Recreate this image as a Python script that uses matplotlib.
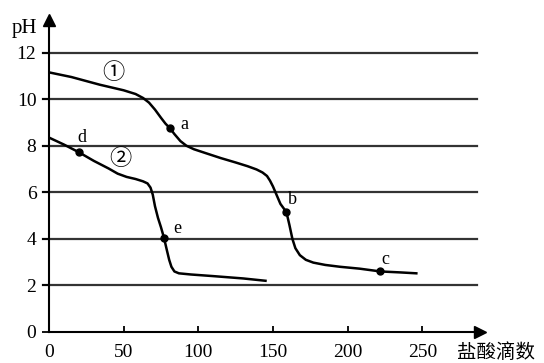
import matplotlib.pyplot as plt

# Curva ① (x = gotas de HCl, y = pH)
x1 = [0, 15, 34, 50, 58, 63, 67, 71, 75, 78, 81, 84, 88, 92, 97, 105, 115, 125,
      133, 139, 143, 146, 148, 150, 152, 155, 159, 161, 163, 165, 168, 172, 177,
      185, 195, 208, 222, 235, 246]
y1 = [11.15, 10.95, 10.62, 10.38, 10.22, 10.05, 9.85, 9.55, 9.2, 8.95, 8.75,
      8.5, 8.2, 8.0, 7.85, 7.68, 7.47, 7.28, 7.12, 6.98, 6.85, 6.7, 6.5, 6.25,
      5.95, 5.5, 5.15, 4.6, 4.0, 3.6, 3.3, 3.1, 2.98, 2.88, 2.8, 2.72, 2.6,
      2.56, 2.52]

# Curva ②
x2 = [0, 10, 20, 30, 40, 46, 52, 58, 63, 66, 68, 69.5, 71, 73, 75, 77, 79,
      80.5, 82, 84, 87, 95, 110, 130, 145]
y2 = [8.35, 8.05, 7.72, 7.35, 7.02, 6.8, 6.66, 6.57, 6.47, 6.38, 6.2, 5.9,
      5.4, 4.9, 4.5, 4.05, 3.5, 3.1, 2.8, 2.6, 2.52, 2.47, 2.4, 2.3, 2.2]

# Puntos marcados
pt_names = ["a", "b", "c", "d", "e"]
pt_x = [81, 159, 222, 20, 77]
pt_y = [8.75, 5.15, 2.6, 7.72, 4.05]
lbl_x = [91, 163, 225, 22, 86]
lbl_y = [8.93, 5.7, 3.13, 8.37, 4.46]

y_ticks = [0, 2, 4, 6, 8, 10, 12]
x_ticks = [0, 50, 100, 150, 200, 250]

serif = "Liberation Serif"
cjk = ["Noto Sans CJK SC", "DejaVu Sans"]

fig = plt.figure(figsize=(5.44, 3.63), dpi=100)
ax = fig.add_axes([0.090, 0.0854, 0.792, 0.8596])
ax.set_xlim(0, 288.5)
ax.set_ylim(0, 13.4)

# Líneas horizontales de la grilla
for v in y_ticks[1:]:
    ax.plot([-4, 286.5], [v, v], color="#333333", lw=1.6, clip_on=False, zorder=1)

ax.plot(x1, y1, color="black", lw=1.8, zorder=3, solid_joinstyle="round")
ax.plot(x2, y2, color="black", lw=1.8, zorder=3, solid_joinstyle="round")
ax.plot(pt_x, pt_y, "o", color="black", ms=5, zorder=4)
for n, tx, ty in zip(pt_names, lbl_x, lbl_y):
    ax.text(tx, ty, n, family=serif, fontsize=13, ha="center", va="center")

ax.text(43, 11.16, "①", family=cjk, fontsize=16, ha="center", va="center")
ax.text(47.5, 7.47, "②", family=cjk, fontsize=16, ha="center", va="center")

# Ejes con flechas
for s in ["top", "right"]:
    ax.spines[s].set_visible(False)
for s in ["left", "bottom"]:
    ax.spines[s].set_linewidth(1.5)
ax.plot(1, 0, ">", color="black", ms=8, transform=ax.transAxes, clip_on=False)
ax.plot(0, 1, "^", color="black", ms=8, transform=ax.transAxes, clip_on=False)

ax.set_xticks(x_ticks)
ax.set_yticks(y_ticks)
ax.tick_params(axis="x", direction="in", length=4, width=1.3, pad=9)
ax.tick_params(axis="y", direction="out", length=5, width=1.3, pad=4)
for lab in ax.get_xticklabels() + ax.get_yticklabels():
    lab.set_family(serif)
    lab.set_fontsize(14)

fig.text(12 / 544, 1 - 28 / 363, "pH", family=serif, fontsize=15, va="center")
fig.text(457 / 544, 1 - 352 / 363, "盐酸滴数", family=cjk, fontsize=14, va="center")

fig.savefig("out.png", dpi=100)
